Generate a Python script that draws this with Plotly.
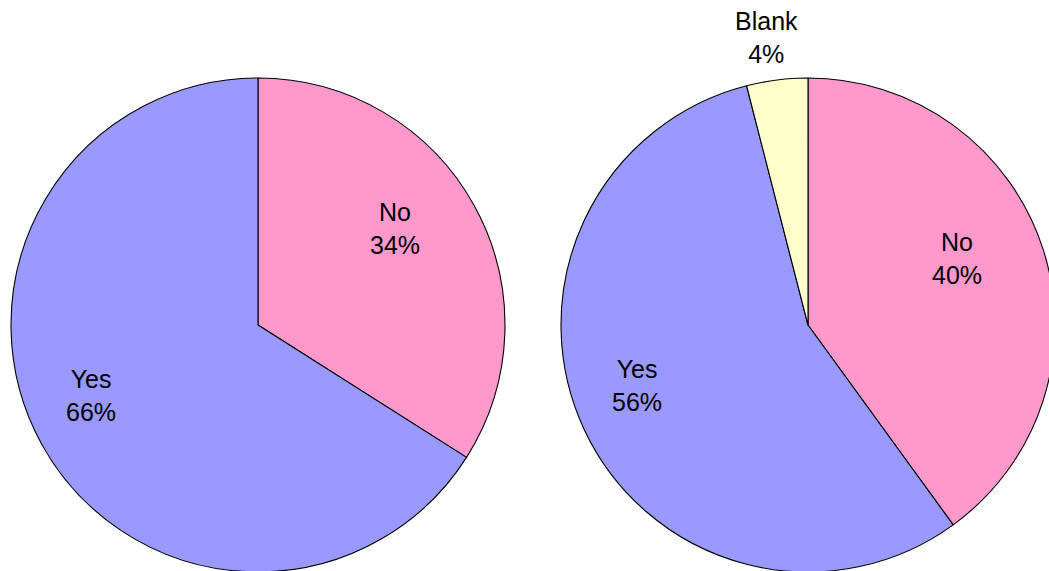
import math
import plotly.graph_objects as go

# ---- data ----
left_labels = ["No", "Yes"]
left_values = [34, 66]
right_labels = ["No", "Yes", "Blank"]
right_values = [40, 56, 4]
right_textpos = ["inside", "inside", "outside"]
left_textpos = ["inside", "inside"]

colors = {"No": "#FF99CC", "Yes": "#9999FF", "Blank": "#FFFFCC"}

# ---- layout geometry (pixels, top-left origin) ----
FIG_W, FIG_H = 1064, 576
PIES = [
    dict(labels=left_labels, values=left_values, pos=left_textpos, cx=258, cy=325, r=247),
    dict(labels=right_labels, values=right_values, pos=right_textpos, cx=808, cy=325, r=247),
]
LABEL_STYLE = {
    "inside": dict(rfrac=0.70, xshift=-15, yshift=13),
    "outside": dict(rfrac=1.175, xshift=-5, yshift=0),
}
FONT = dict(family="Liberation Sans, Arial", size=25, color="black")

fig = go.Figure()
annotations = []
for p in PIES:
    cx, cy, r = p["cx"], p["cy"], p["r"]
    dom = dict(x=[(cx - r) / FIG_W, (cx + r) / FIG_W],
               y=[(FIG_H - (cy + r)) / FIG_H, (FIG_H - (cy - r)) / FIG_H])
    fig.add_trace(go.Pie(
        labels=p["labels"], values=p["values"], sort=False, direction="clockwise",
        rotation=0,
        marker=dict(colors=[colors[l] for l in p["labels"]],
                    line=dict(color="black", width=1.1)),
        textinfo="none", domain=dom, showlegend=False,
        hoverinfo="label+percent",
    ))
    total = sum(p["values"])
    cum = 0.0
    for lab, val, pos in zip(p["labels"], p["values"], p["pos"]):
        mid = (cum + val / 2) / total * 2 * math.pi
        cum += val
        st = LABEL_STYLE[pos]
        rho = r * st["rfrac"]
        x_px = cx + rho * math.sin(mid)
        y_px = cy - rho * math.cos(mid)
        annotations.append(dict(
            x=x_px / FIG_W, y=(FIG_H - y_px) / FIG_H, xref="paper", yref="paper",
            text=f"{lab}<br>{round(val / total * 100)}%", showarrow=False,
            xanchor="center", yanchor="middle", align="center",
            xshift=st["xshift"], yshift=st["yshift"], font=FONT,
        ))

fig.update_layout(width=FIG_W, height=FIG_H, autosize=False,
                  margin=dict(l=0, r=0, t=0, b=0),
                  paper_bgcolor="white", plot_bgcolor="white",
                  font=FONT, annotations=annotations)
fig.write_html(
    "out.html",
    config={"displayModeBar": False},
    post_script="document.body.style.margin='0';document.body.style.overflow='hidden';",
)
